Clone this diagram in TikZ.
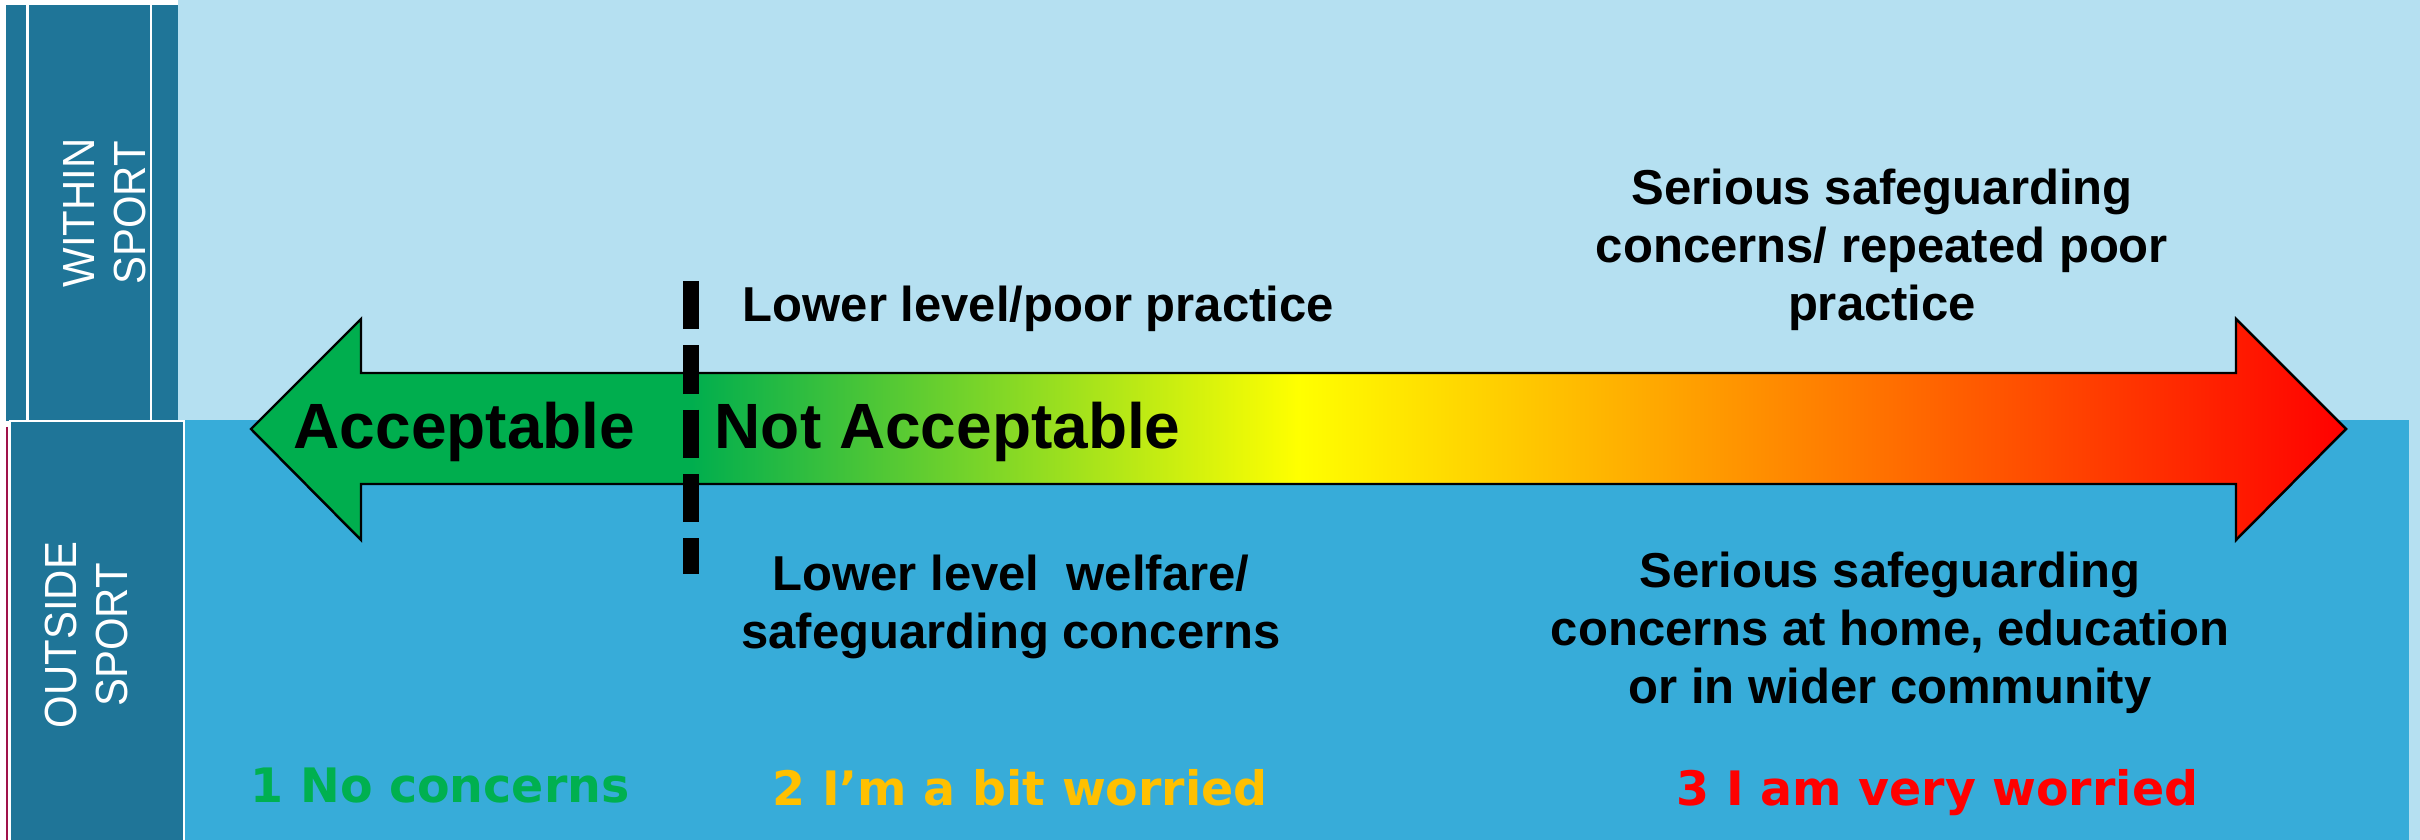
\documentclass[tikz,border=0pt]{standalone}
\usepackage{fontspec}
\setmainfont{Liberation Sans}
\newfontfamily\verdanafont{DejaVu Sans}
\newfontfamily\narrowfont{Liberation Sans}[FakeStretch=0.93]
\definecolor{lightbg}{RGB}{181,224,241}
\definecolor{lowerbg}{RGB}{55,172,217}
\definecolor{darkbox}{RGB}{31,117,152}
\definecolor{crimsonline}{RGB}{160,18,74}
\definecolor{agreen}{RGB}{0,174,78}
\definecolor{ayellow}{RGB}{255,255,0}
\definecolor{ared}{RGB}{255,0,0}
\definecolor{lvlgreen}{RGB}{0,176,80}
\definecolor{lvlyellow}{RGB}{255,192,0}
\definecolor{lvlred}{RGB}{255,0,0}
\pgfdeclarehorizontalshading{arrowgrad}{100bp}{color(0bp)=(agreen); color(35.5bp)=(agreen); color(50bp)=(ayellow); color(75bp)=(ared); color(100bp)=(ared)}
\tikzset{
  bigtxt/.style={font=\bfseries\fontsize{18.2}{21}\selectfont, inner sep=0pt, anchor=base west},
  midtxt/.style={font=\bfseries\fontsize{13.94}{16.5}\selectfont, inner sep=0pt, align=center, anchor=base},
  lvltxt/.style={font=\verdanafont\bfseries\fontsize{13.5}{16}\selectfont, inner sep=0pt, anchor=base west},
  sidetxt/.style={font=\narrowfont\fontsize{12.8}{14.5}\selectfont, text=white, align=center, rotate=90, inner sep=0pt},
  scalearrow/.style={draw=black, line width=0.7pt, shading=arrowgrad, line join=miter},
  divider/.style={line width=0.16cm, dash pattern=on 0.483cm off 0.16cm, line cap=butt},
}
\begin{document}
\begin{tikzpicture}[x=0.01cm, y=-0.01cm]
\useasboundingbox (0,0) rectangle (2420,840);
% backgrounds
\fill[white] (0,0) rectangle (2420,840);
\fill[lightbg] (178,0) rectangle (2420,840);
\fill[lowerbg] (184,420) rectangle (2409,840);
% side boxes
\fill[darkbox] (6,5) rectangle (178,421);
\draw[white, line width=0.02cm] (27.5,5) -- (27.5,421);
\draw[white, line width=0.02cm] (151,5) -- (151,421);
\draw[white, line width=0.02cm, fill=darkbox] (10,421.5) rectangle (184,845);
\draw[crimsonline, line width=0.025cm] (7,427) -- (7,840);
\node[sidetxt] (within) at (105,213) {WITHIN\\SPORT};
\node[sidetxt] (outside) at (87,635) {OUTSIDE\\SPORT};
% arrow
\path[scalearrow] (251,429) -- (361,319) -- (361,373) -- (2236,373) -- (2236,319)
  -- (2346,429) -- (2236,540) -- (2236,484) -- (361,484) -- (361,540) -- cycle;
% divider
\coordinate (dtop) at (691,281);
\coordinate (dbot) at (691,574);
\draw[divider] (dtop) -- (dbot);
% texts (multi-line nodes: base = baseline of last line)
\node[bigtxt] (acc) at (293,449) {Acceptable};
\node[bigtxt] (notacc) at (714,449) {Not Acceptable};
\node[midtxt, anchor=base west] (lowpoor) at (742,322) {Lower level/poor practice};
\node[midtxt] (serwithin) at (1882,321) {Serious safeguarding\\concerns/ repeated poor\\practice};
\node[midtxt] (lowwelf) at (1011,649) {Lower level\ \ welfare/\\safeguarding concerns};
\node[midtxt] (seroutside) at (1890,704) {Serious safeguarding\\concerns at home, education\\or in wider community};
\node[lvltxt, text=lvlgreen] (lvl1) at (250,802) {1 No concerns};
\node[lvltxt, text=lvlyellow] (lvl2) at (772,806) {2 I’m a bit worried};
\node[lvltxt, text=lvlred] (lvl3) at (1676,806) {3 I am very worried};
\end{tikzpicture}
\end{document}
